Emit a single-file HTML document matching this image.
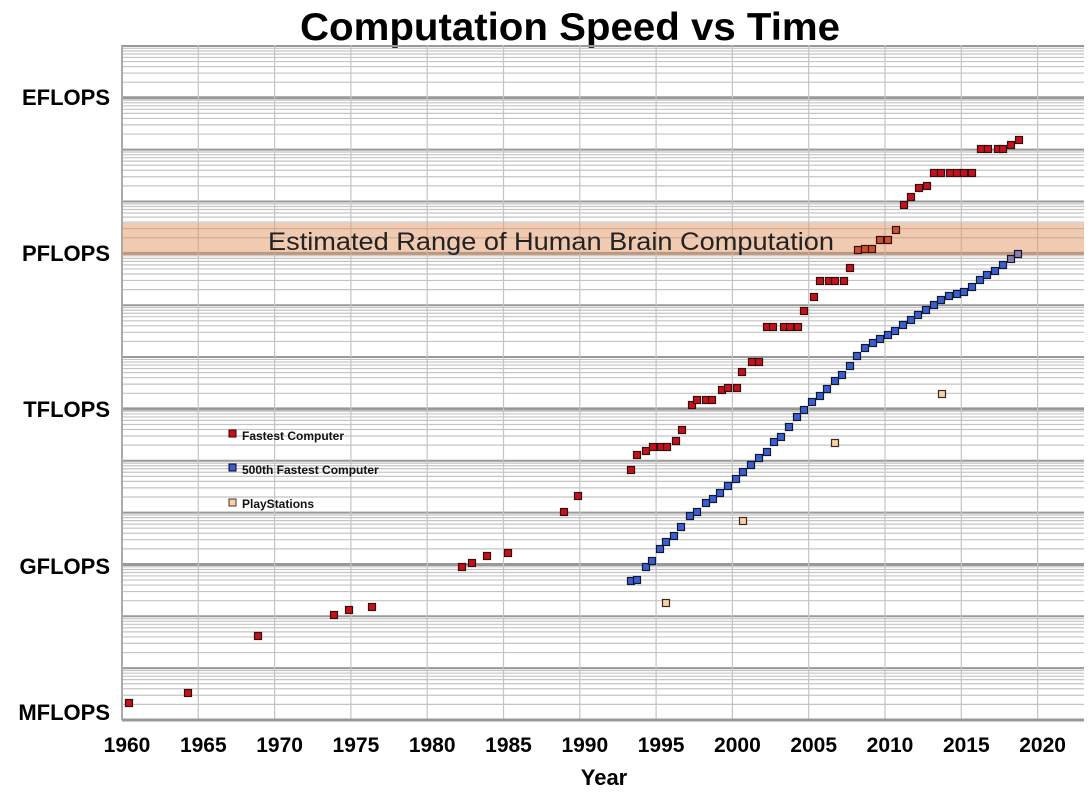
<!DOCTYPE html>
<html><head><meta charset="utf-8"><style>
html,body{margin:0;padding:0;background:#fff;}
svg{display:block;}
text{font-family:"Liberation Sans",sans-serif;}
</style></head><body>
<svg id="s" width="1092" height="797" xmlns="http://www.w3.org/2000/svg">
<text x="570" y="40" text-anchor="middle" font-size="39" font-weight="bold" fill="#000" textLength="540" lengthAdjust="spacingAndGlyphs">Computation Speed vs Time</text>
<g id="grid"></g>
<rect x="122" y="223" width="962" height="32" fill="rgba(226,150,100,0.5)"/>
<text x="551" y="250" text-anchor="middle" font-size="25" fill="#222" textLength="566" lengthAdjust="spacingAndGlyphs">Estimated Range of Human Brain Computation</text>
<g id="pts"></g>
<g font-weight="bold" font-size="22" text-anchor="end" fill="#000">
<text x="110" y="105">EFLOPS</text>
<text x="110" y="261">PFLOPS</text>
<text x="110" y="417">TFLOPS</text>
<text x="110" y="574">GFLOPS</text>
<text x="110" y="720">MFLOPS</text>
</g>
<g font-weight="bold" font-size="21" text-anchor="middle" fill="#000" id="xl"></g>
<text x="604" y="785" text-anchor="middle" font-size="22" font-weight="bold">Year</text>
<g font-size="12" font-weight="bold" fill="#111">
<rect x="229" y="430" width="7" height="7" fill="#c8101a" stroke="#300" stroke-width="1"/>
<text x="242" y="440">Fastest Computer</text>
<rect x="229" y="464" width="7" height="7" fill="#3a5fd0" stroke="#102" stroke-width="1"/>
<text x="242" y="474">500th Fastest Computer</text>
<rect x="229" y="499" width="7" height="7" fill="#f6d2a8" stroke="#432" stroke-width="1"/>
<text x="242" y="508">PlayStations</text>
</g>
</svg>
<script>
var NS="http://www.w3.org/2000/svg";
function el(p,t,a){var e=document.createElementNS(NS,t);for(var k in a)e.setAttribute(k,a[k]);p.appendChild(e);return e;}
var g=document.getElementById('grid');
var L=122,R=1084,B=720,D=51.85;
for(var d=0;d<13;d++){
  var y0=B-d*D;
  for(var k=2;k<=9;k++){var y=y0-Math.log10(k)*D;el(g,'line',{x1:L,x2:R,y1:y,y2:y,stroke:'#c4c4c4','stroke-width':1.2});}
}
for(var d=0;d<=13;d++){var y=B-d*D;el(g,'line',{x1:L,x2:R,y1:y,y2:y,stroke:'#999','stroke-width':(d%3==0?3:2)});}
for(var yr=1960;yr<=2020;yr+=5){var x=L+(yr-1960)*15.26;el(g,'line',{x1:x,x2:x,y1:45,y2:B,stroke:'#c4c4c4','stroke-width':1.2});
 var t=el(document.getElementById('xl'),'text',{x:x+5,y:752});t.textContent=yr;}
el(g,'line',{x1:L,x2:L,y1:45,y2:B,stroke:'#aaa','stroke-width':2});
el(g,'line',{x1:L,x2:R,y1:B,y2:B,stroke:'#999','stroke-width':3});
var P=document.getElementById('pts');
function pt(x,y,f,s){el(P,'rect',{x:x-3.5,y:y-3.5,width:7,height:7,fill:f,stroke:s,'stroke-width':1.2});}
var red=[[129,703],[188,693],[258,636],[334,615],[349,610],[372,607],[462,567],[472,563],[487,556],[508,553],[564,512],[578,496],[631,470],[637,455],[646,451],[653,447],[661,447],[667,447],[676,441],[682,430],[692,405],[697,400],[706,400],[712,400],[722,390],[728,388],[737,388],[742,372],[752,362],[759,362],[767,327],[773,327],[784,327],[790,327],[798,327],[804,311],[814,297],[820,281],[829,281],[835,281],[844,281],[850,268],[858,250],[865,249],[872,249],[880,240],[888,240],[896,230],[904,205],[911,197],[919,188],[927,186],[934,173],[941,173],[950,173],[957,173],[964,173],[972,173],[981,149],[988,149],[998,149],[1003,149],[1011,145],[1019,140]];
red.forEach(function(p){var o=(p[0]>=855&&p[0]<=900);pt(p[0],p[1],o?'#d0502a':'#c8101a','#301010');});
var blue=[[631,581],[637,580],[646,567],[652,561],[660,549],[666,542],[674,536],[681,527],[690,516],[697,512],[706,503],[713,499],[720,493],[728,486],[736,479],[743,472],[751,465],[759,458],[767,452],[774,442],[781,437],[789,427],[797,417],[804,410],[812,402],[820,396],[827,389],[835,381],[842,375],[850,366],[857,356],[865,348],[873,343],[880,339],[888,335],[895,331],[903,325],[911,320],[918,315],[926,310],[934,305],[941,300],[949,296],[957,294],[964,292],[972,287],[980,280],[987,275],[995,271],[1003,265],[1011,259],[1018,254]];
blue.forEach(function(p){pt(p[0],p[1],p[0]>=1008?'#8a7fa8':'#3a5fd0','#101830');});
[[666,603],[743,521],[835,443],[942,394]].forEach(function(p){pt(p[0],p[1],'#f6d2a8','#3a2a20');});
</script>
</body></html>
